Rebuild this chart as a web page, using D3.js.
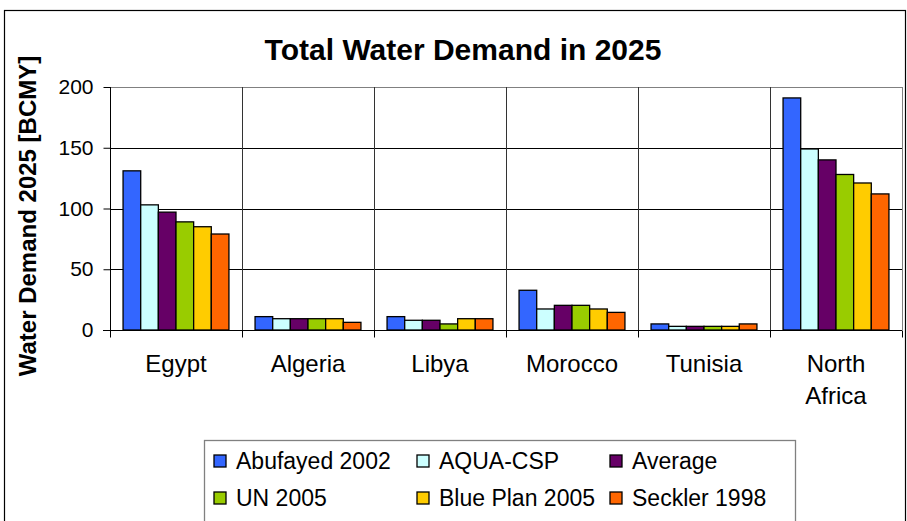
<!DOCTYPE html>
<html><head><meta charset="utf-8">
<script src="https://cdn.jsdelivr.net/npm/d3@7"></script>
<style>body{margin:0;background:#fff}svg{display:block}text{font-family:"Liberation Sans",Arial,sans-serif}</style>
</head><body><svg id="c" width="907" height="521"></svg>
<script>
const categories = ["Egypt","Algeria","Libya","Morocco","Tunisia","North Africa"];
const seriesNames = ["Abufayed 2002","AQUA-CSP","Average","UN 2005","Blue Plan 2005","Seckler 1998"];
const abufayed = [131, 11, 11, 32.7, 5, 191];
const aquaCsp  = [103, 9.3, 8, 17.3, 3, 149];
const average  = [97, 9.3, 8, 20.3, 3, 140];
const un2005   = [89, 9.3, 5, 20.3, 3, 128];
const bluePlan = [85, 9.3, 9.3, 17.3, 3, 121];
const seckler  = [79, 6.3, 9.3, 14.5, 5, 112];
const yTicks = [0, 50, 100, 150, 200];
const colors = ["#3366ff","#ccffff","#660066","#99cc00","#ffcc00","#ff6600"];
const seriesValues = [abufayed, aquaCsp, average, un2005, bluePlan, seckler];

const FONT = "'Liberation Sans', Arial, sans-serif";
const svg = d3.select("#c");
// outer border
svg.append("rect").attr("x",4.5).attr("y",10.5).attr("width",901).attr("height",530)
  .attr("fill","none").attr("stroke","#000").attr("stroke-width",1.2);

const L=110, R=902, T=87, B=330;
const x0 = d3.scaleBand().domain(categories).range([L,R]).paddingInner(0).paddingOuter(0);
const x1 = d3.scaleBand().domain(seriesNames).range([0,x0.bandwidth()]).paddingOuter(0.74).paddingInner(0);
const y = d3.scaleLinear().domain([0,200]).range([B,T]);

// gridlines
const g = svg.append("g");
g.selectAll(".hg").data(yTicks.filter(d=>d>0)).join("line")
  .attr("x1",L).attr("x2",R).attr("y1",d=>Math.round(y(d))+0.5).attr("y2",d=>Math.round(y(d))+0.5)
  .attr("stroke",d=>d===200?"#808080":"#000").attr("stroke-width",1);
const bounds = categories.slice(1).map(c=>x0(c)).concat([R]);
g.selectAll(".vg").data(bounds).join("line")
  .attr("x1",d=>Math.round(d)+0.5).attr("x2",d=>Math.round(d)+0.5).attr("y1",T).attr("y2",B)
  .attr("stroke",(d,i)=>i===bounds.length-1?"#808080":"#333").attr("stroke-width",1);

// bars
const groups = svg.append("g").selectAll("g").data(categories).join("g")
  .attr("transform",c=>`translate(${x0(c)},0)`);
groups.selectAll("rect").data((c,ci)=>seriesNames.map((s,si)=>({s,si,v:seriesValues[si][ci]}))).join("rect")
  .attr("x",d=>x1(d.s)).attr("width",x1.bandwidth())
  .attr("y",d=>y(d.v)).attr("height",d=>y(0)-y(d.v))
  .attr("fill",d=>colors[d.si]).attr("stroke","#000").attr("stroke-width",1.3);

// y axis
const ya = svg.append("g").attr("transform",`translate(${L+0.5},0)`)
  .call(d3.axisLeft(y).tickValues(yTicks).tickSize(7).tickPadding(10));
ya.select(".domain").attr("stroke","#000").attr("d",`M0,${T}V${B+7}`);
ya.selectAll(".tick line").attr("stroke","#000");
ya.selectAll(".tick text").attr("font-size",21).attr("fill","#000").attr("font-family",FONT);

// x axis
const xa = svg.append("g").attr("transform",`translate(0,${B+0.5})`);
xa.append("line").attr("x1",L-7).attr("x2",R).attr("stroke","#000");
const tickXs = [L].concat(bounds);
xa.selectAll(".xt").data(tickXs).join("line")
  .attr("x1",d=>Math.round(d)+0.5).attr("x2",d=>Math.round(d)+0.5).attr("y1",0).attr("y2",7)
  .attr("stroke","#000");
svg.append("g").selectAll("text").data(categories).join("text")
  .attr("x",c=>x0(c)+x0.bandwidth()/2).attr("y",372)
  .attr("text-anchor","middle").attr("font-size",24).attr("fill","#000")
  .each(function(c){
    const words = c.split(" ");
    const t = d3.select(this);
    words.forEach((w,i)=>t.append("tspan").attr("x",x0(c)+x0.bandwidth()/2).attr("dy",i===0?0:32).text(w));
  });

// title
svg.append("text").attr("x",463).attr("y",60).attr("text-anchor","middle")
  .attr("font-size",30).attr("font-weight","bold").attr("fill","#000")
  .text("Total Water Demand in 2025");

// y title
svg.append("text").attr("transform","translate(36,216) rotate(-90)").attr("text-anchor","middle")
  .attr("font-size",24).attr("font-weight","bold").attr("fill","#000")
  .text("Water Demand 2025 [BCMY]");

// legend
svg.append("rect").attr("x",204.5).attr("y",440.5).attr("width",591).attr("height",100)
  .attr("fill","#fff").attr("stroke","#808080").attr("stroke-width",1.3);
const colX = [214, 417, 610];
const rowY = [455, 492];
const leg = svg.append("g").selectAll("g").data(seriesNames).join("g")
  .attr("transform",(d,i)=>`translate(${colX[i%3]},${rowY[Math.floor(i/3)]})`);
leg.append("rect").attr("width",12).attr("height",12).attr("fill",(d,i)=>colors[i])
  .attr("stroke","#000").attr("stroke-width",1.3);
leg.append("text").attr("x",22).attr("y",14).attr("font-size",23).attr("fill","#000").text(d=>d);
</script></body></html>
